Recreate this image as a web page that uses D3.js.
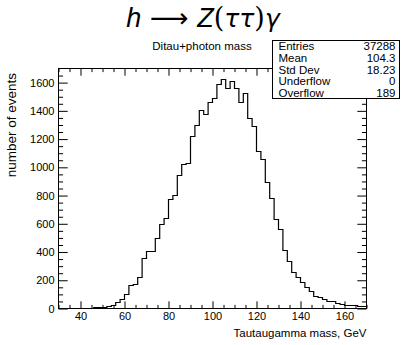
<!DOCTYPE html>
<html><head><meta charset="utf-8">
<script src="https://cdn.jsdelivr.net/npm/d3@7"></script>
<style>body{margin:0;background:#fff}svg{display:block}</style>
</head><body>
<svg id="c" width="402" height="345"></svg>
<script>
// ---- data ----
const binLow = 30, binWidth = 2;
const counts = [
  0, 0, 0, 1, 0, 1, 2, 2, 5, 9,
  6, 12, 24, 42, 61, 101, 160, 168, 222, 352,
  402, 405, 497, 593, 634, 771, 802, 940, 1017, 1030,
  1218, 1293, 1399, 1371, 1460, 1488, 1589, 1621, 1561, 1607,
  1561, 1456, 1523, 1349, 1288, 1115, 1055, 890, 781, 628,
  560, 408, 335, 252, 222, 182, 148, 120, 82, 76,
  63, 50, 50, 38, 31, 24, 24, 21, 17, 17
];
const xTickLabels = [40, 60, 80, 100, 120, 140, 160];
const yTickLabels = [0, 200, 400, 600, 800, 1000, 1200, 1400, 1600];
const statLabels = ["Entries", "Mean", "Std Dev", "Underflow", "Overflow"];
const statValues = ["37288", "104.3", "18.23", "0", "189"];
const subTitle = "Ditau+photon mass";
const xTitle = "Tautaugamma mass, GeV";
const yTitle = "number of events";

// ---- layout ----
const svg = d3.select("#c");
const F = "'Liberation Sans', Arial, Helvetica, sans-serif";
const L = 58.5, R = 366.5, T = 68.5, B = 308.5;
const xMin = 30, xMax = 170;
const x = d3.scaleLinear().domain([xMin, xMax]).range([L, R]);
const y = d3.scaleLinear().domain([0, 1700]).range([B, T]);

const majorX = 7.2, majorY = 9.2;
function styleAxis(g) {
  g.select(".domain").remove();
  g.selectAll("line").attr("stroke", "#000").attr("stroke-width", 1);
  g.selectAll("text").attr("font-family", F).attr("font-size", 11).attr("fill", "#000");
}
const minorXVals = d3.range(xMin, xMax + 0.1, 5).filter(v => !xTickLabels.includes(v));
const minorYVals = d3.range(0, 1700, 50).filter(v => !yTickLabels.includes(v));

// bottom
svg.append("g").attr("transform", `translate(0,${B})`)
  .call(d3.axisBottom(x).tickValues(xTickLabels).tickSize(-majorX).tickPadding(4).tickFormat(d3.format("d")))
  .call(styleAxis);
svg.append("g").attr("transform", `translate(0,${B})`)
  .call(d3.axisBottom(x).tickValues(minorXVals).tickSize(-majorX / 2).tickFormat(""))
  .call(styleAxis);
// top
svg.append("g").attr("transform", `translate(0,${T})`)
  .call(d3.axisTop(x).tickValues(xTickLabels).tickSize(-majorX).tickFormat(""))
  .call(styleAxis);
svg.append("g").attr("transform", `translate(0,${T})`)
  .call(d3.axisTop(x).tickValues(minorXVals).tickSize(-majorX / 2).tickFormat(""))
  .call(styleAxis);
// left
svg.append("g").attr("transform", `translate(${L},0)`)
  .call(d3.axisLeft(y).tickValues(yTickLabels).tickSize(-majorY).tickPadding(4).tickFormat(d3.format("d")))
  .call(styleAxis);
svg.append("g").attr("transform", `translate(${L},0)`)
  .call(d3.axisLeft(y).tickValues(minorYVals).tickSize(-majorY / 2).tickFormat(""))
  .call(styleAxis);
// right
svg.append("g").attr("transform", `translate(${R},0)`)
  .call(d3.axisRight(y).tickValues(yTickLabels).tickSize(-majorY).tickFormat(""))
  .call(styleAxis);
svg.append("g").attr("transform", `translate(${R},0)`)
  .call(d3.axisRight(y).tickValues(minorYVals).tickSize(-majorY / 2).tickFormat(""))
  .call(styleAxis);

// frame
svg.append("rect").attr("x", L).attr("y", T).attr("width", R - L).attr("height", B - T)
  .attr("fill", "none").attr("stroke", "#000").attr("stroke-width", 1);

// histogram
const pts = counts.map((c, i) => [binLow + i * binWidth, c]);
pts.push([binLow + counts.length * binWidth, counts[counts.length - 1]]);
const line = d3.line()
  .x(d => x(d[0]))
  .y(d => Math.round(y(d[1]) - 0.5) + 0.5)
  .curve(d3.curveStepAfter);
svg.append("path").attr("d", line(pts))
  .attr("fill", "none").attr("stroke", "#000").attr("stroke-width", 1.2);

// axis titles
svg.append("text").attr("x", R).attr("y", 337).attr("text-anchor", "end")
  .attr("font-family", F).attr("font-size", 11.5).text(xTitle);
svg.append("text").attr("transform", `translate(16,73) rotate(-90)`).attr("text-anchor", "end")
  .attr("font-family", F).attr("font-size", 13.5).text(yTitle);

// title
const tt = svg.append("text").attr("x", 203).attr("y", 27).attr("text-anchor", "middle")
  .attr("font-family", F).attr("font-size", 27);
tt.append("tspan").attr("font-style", "italic").text("h");
tt.append("tspan").attr("font-family", "'DejaVu Sans', sans-serif").attr("font-size", 27).text(" \u27F6 ");
tt.append("tspan").attr("font-style", "italic").text("Z");
tt.append("tspan").attr("font-family", "'DejaVu Serif', serif").text("(");
tt.append("tspan").attr("font-family", "'DejaVu Sans', sans-serif").attr("font-style", "italic").attr("font-size", 25).text("\u03C4\u03C4");
tt.append("tspan").attr("font-family", "'DejaVu Serif', serif").text(")");
tt.append("tspan").attr("font-family", "'DejaVu Sans', sans-serif").attr("font-style", "italic").attr("font-size", 25).text("\u03B3");

svg.append("text").attr("x", 202).attr("y", 50).attr("text-anchor", "middle")
  .attr("font-family", F).attr("font-size", 11.5).text(subTitle);

// stats box
const bx = 272.5, by = 40.5, bw = 127, bh = 58;
svg.append("rect").attr("x", bx).attr("y", by).attr("width", bw).attr("height", bh)
  .attr("fill", "#fff").attr("stroke", "#000").attr("stroke-width", 1);
const rowH = bh / statLabels.length;
statLabels.forEach((lab, i) => {
  const cy = by + rowH * (i + 0.5);
  svg.append("text").attr("x", bx + 6).attr("y", cy + 4)
    .attr("font-family", F).attr("font-size", 11.5).text(lab);
  svg.append("text").attr("x", bx + bw - 4).attr("y", cy + 4).attr("text-anchor", "end")
    .attr("font-family", F).attr("font-size", 11.5).text(statValues[i]);
});
</script>
</body></html>
